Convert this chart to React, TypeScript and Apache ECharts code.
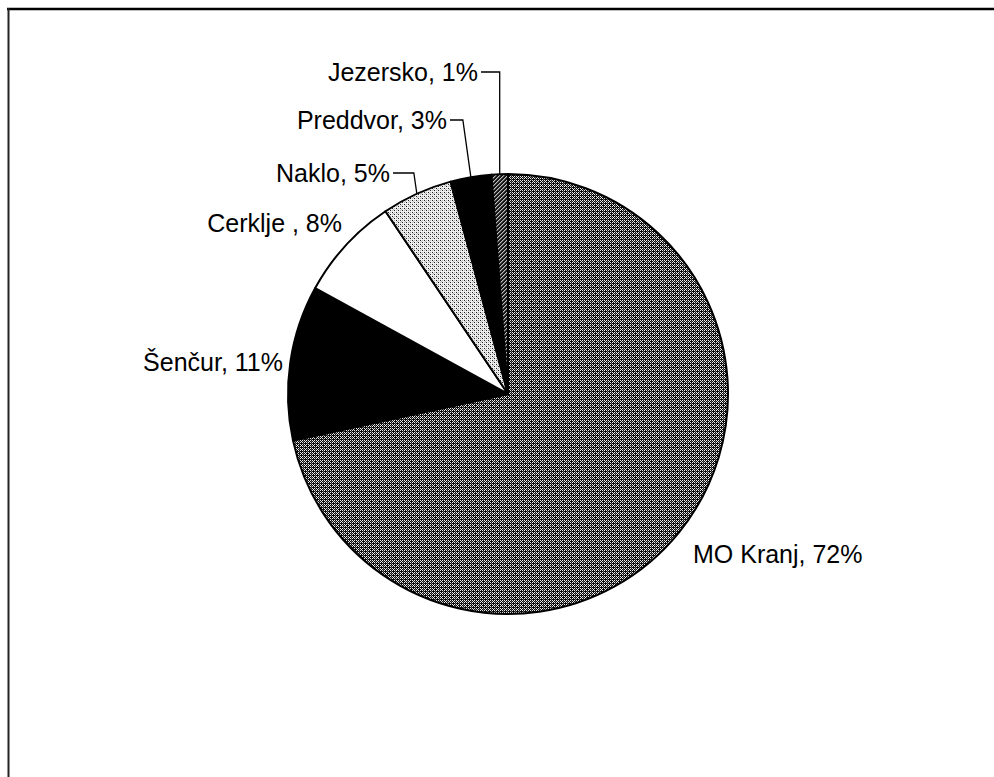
import React, { useEffect, useRef } from "react";
import * as echarts from "echarts";

const categories = ["MO Kranj", "Šenčur", "Cerklje ", "Naklo", "Preddvor", "Jezersko"];
const shares = [71.6, 11.4, 7.6, 5.2, 3.0, 1.2];

// label placement (layout only)
const labelX = [693, 283, 342, 390, 447, 478];
const labelY = [554, 362, 223, 173, 120, 72];
const labelAlign = ["left", "right", "right", "right", "right", "right"];
const hasLeader = [false, false, false, true, true, true];
const elbowShift = [0, 0, 0, -3, -8, 0];

function makePattern(kind: string): HTMLCanvasElement {
  const size = 8;
  const c = document.createElement("canvas");
  c.width = size;
  c.height = size;
  const ctx = c.getContext("2d")!;
  const img = ctx.createImageData(size, size);
  const bayer = [
    [0, 32, 8, 40, 2, 34, 10, 42],
    [48, 16, 56, 24, 50, 18, 58, 26],
    [12, 44, 4, 36, 14, 46, 6, 38],
    [60, 28, 52, 20, 62, 30, 54, 22],
    [3, 35, 11, 43, 1, 33, 9, 41],
    [51, 19, 59, 27, 49, 17, 57, 25],
    [15, 47, 7, 39, 13, 45, 5, 37],
    [63, 31, 55, 23, 61, 29, 53, 21],
  ];
  for (let y = 0; y < size; y++) {
    for (let x = 0; x < size; x++) {
      const t = bayer[y][x] / 64;
      let v = 255;
      if (kind === "mid") {
        v = t < 0.3 ? 235 : t < 0.42 ? 110 : 10;
      } else if (kind === "dark") {
        v = ((x + y) % 4 < 2) ? 20 : t < 0.5 ? 190 : 90;
      } else if (kind === "light") {
        v = t < 0.12 ? 30 : t < 0.3 ? 180 : 240;
      }
      const i = (y * size + x) * 4;
      img.data[i] = v;
      img.data[i + 1] = v;
      img.data[i + 2] = v;
      img.data[i + 3] = 255;
    }
  }
  ctx.putImageData(img, 0, 0);
  return c;
}

export default function App() {
  const ref = useRef<HTMLDivElement>(null);
  useEffect(() => {
    if (!ref.current) return;
    const chart = echarts.init(ref.current, null, { renderer: "svg" });
    const pat = (k: string) => ({
      image: makePattern(k).toDataURL(),
      repeat: "repeat",
      imageWidth: 8,
      imageHeight: 8,
    });
    const fills: any[] = [pat("mid"), "#000000", "#ffffff", pat("light"), "#000000", pat("dark")];
    const data = categories.map((name, i) => ({
      name,
      value: shares[i],
      itemStyle: { color: fills[i] },
      labelLine: { show: hasLeader[i] },
    }));
    chart.setOption({
      animation: false,
      backgroundColor: "#ffffff",
      graphic: [
        { type: "line", shape: { x1: 7, y1: 9, x2: 994, y2: 9 }, style: { stroke: "#000", lineWidth: 2.5 } },
        { type: "line", shape: { x1: 8.5, y1: 8, x2: 8.5, y2: 777 }, style: { stroke: "#222", lineWidth: 2 } },
      ],
      series: [
        {
          type: "pie",
          center: [508, 394],
          radius: 220,
          startAngle: 90,
          clockwise: true,
          avoidLabelOverlap: false,
          data,
          itemStyle: { borderColor: "#000", borderWidth: 2 },
          emphasis: { disabled: true },
          label: {
            show: true,
            position: "outside",
            fontFamily: "Liberation Sans, Arial, sans-serif",
            fontSize: 25,
            color: "#000",
            formatter: (p: any) => `${p.name}, ${Math.round(p.value)}%`,
          },
          labelLine: { show: true, lineStyle: { color: "#000", width: 1.3 }, length: 10, length2: 10 },
          labelLayout: (p: any) => {
            const i = p.dataIndex;
            const res: any = {
              x: labelX[i],
              y: labelY[i],
              align: labelAlign[i],
              verticalAlign: "middle",
            };
            if (hasLeader[i] && p.labelLinePoints && p.labelLinePoints.length) {
              const a = p.labelLinePoints[0];
              res.labelLinePoints = [
                [a[0], a[1]],
                [a[0] + elbowShift[i], labelY[i]],
                [labelX[i] + 3, labelY[i]],
              ];
            }
            return res;
          },
        },
      ],
    });
    return () => chart.dispose();
  }, []);
  return (
    <div
      ref={ref}
      style={{ position: "fixed", left: 0, top: 0, width: 994, height: 777 }}
    />
  );
}
